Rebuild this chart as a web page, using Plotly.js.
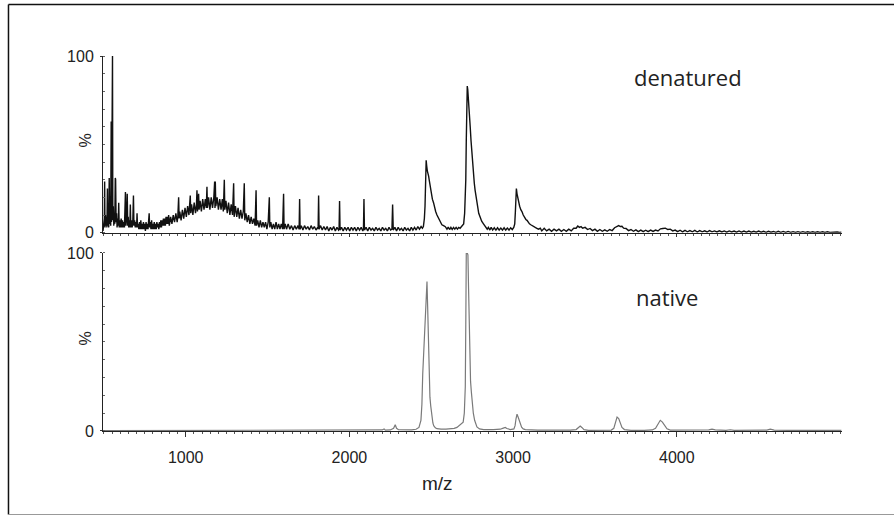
<!DOCTYPE html>
<html>
<head>
<meta charset="utf-8">
<script src="https://cdn.plot.ly/plotly-3.0.1.min.js"></script>
<style>
  html, body { margin: 0; padding: 0; background: #ffffff; }
  #chart { width: 894px; height: 516px; }
</style>
</head>
<body>
<div id="chart"></div>
<script>
// ---------------- DATA (m/z, relative intensity %) ----------------
// Denatured spectrum
var denaturedLow = [
  [495,1],[500,4],[503,8],[505,29],[507,3],[510,10],[513,4],[516,9],[519,3],[522,25],[524,4],[527,9],
  [530,3],[533,31],[536,5],[539,12],[542,4],[545,63],[547,6],[550,100],[553,100],[555,7],[558,15],
  [561,4],[564,10],[567,5],[570,31],[572,30],[575,6],[578,11],[581,3],[585,8],[588,4],[591,17],[594,3],
  [598,7],[602,3],[606,8],[610,3],[614,7],[618,3],[622,6],[626,3],[630,23],[632,23],[635,4],[639,8],
  [643,22],[646,4],[649,9],[652,3],[656,7],[659,3],[662,16],[665,3],[669,7],[673,3],[677,6],[681,21],
  [684,4],[688,7],[692,3],[696,6],[700,3],[703,11],[706,3],
  [710,5],[714,2],[718,6],[722,2],[726,7],[730,2],[734,5],[738,2],[742,6],[746,2],[750,5],[754,1],
  [758,6],[762,2],[766,5],[770,2],[774,6],[777,11],[780,3],[784,6],[788,2],[792,7],[796,2],[800,5],
  [804,2],[808,6],[812,2],[816,5],[820,2],[824,6],[828,3],[832,5],[836,2],[840,6],[844,3],[848,7],
  [852,3],[856,7],[860,4],[864,8],[868,4],[872,8],[876,4],[880,9],[884,5],[888,9],[892,5],[896,10]
];
var denaturedHump = [
  [900,4],[908,9],[916,5],[924,10],[932,6],[940,11],[948,6],[952,9],[957,20],[960,8],[964,12],[972,7],
  [980,13],[988,8],[996,14],[1004,9],[1012,15],[1020,10],[1028,21],[1031,11],[1036,16],[1044,10],
  [1052,17],[1060,11],[1066,16],[1069,24],[1072,12],[1079,22],[1082,13],[1088,18],[1096,12],[1104,19],
  [1112,13],[1120,19],[1126,14],[1130,26],[1133,14],[1140,20],[1148,13],[1156,20],[1164,14],[1172,20],
  [1177,29],[1179,14],[1181,29],[1184,15],[1192,20],[1200,13],[1208,19],[1216,13],[1224,19],[1230,12],
  [1236,30],[1239,13],[1246,18],[1254,11],[1262,17],[1270,10],[1278,16],[1286,10],[1293,28],[1296,9],
  [1304,15],[1312,9],[1320,14],[1328,8],[1336,13],[1344,8],[1352,12],[1358,28],[1361,7],[1368,11],
  [1376,6],[1384,10],[1392,5],[1400,9],[1408,5],[1416,8],[1424,4],[1430,24],[1433,4],[1440,7],[1448,3],
  [1456,7],[1464,3],[1472,6],[1480,3],[1488,6],[1496,2],[1504,6],[1511,20],[1514,3],[1520,6],[1528,2],
  [1536,5],[1544,2],[1552,6],[1560,2],[1568,5],[1576,2],[1584,5],[1592,2],[1598,22],[1601,2],[1608,5]
];
var denaturedMid = [
  [1616,2],[1626,5],[1636,2],[1646,4],[1656,1.5],[1666,4],[1676,2],[1686,4],[1693,2],[1696,19],[1699,2],
  [1706,4],[1716,1.5],[1726,4],[1736,2],[1746,3.5],[1756,1.5],[1766,4],[1776,2],[1786,3.5],[1796,1.5],
  [1806,3],[1809,2],[1812,21],[1815,2],[1824,4],[1834,1.5],[1844,3.5],[1854,1.5],[1864,3.5],[1874,1],
  [1884,3],[1894,1.5],[1904,3.5],[1914,1],[1924,3],[1934,1.5],[1937,2],[1940,18],[1943,1.5],[1952,3],
  [1962,1],[1972,3],[1982,1.5],[1992,3],[2002,1],[2012,3],[2022,1.5],[2032,3],[2042,1],[2052,3],
  [2062,1.5],[2072,3],[2082,1],[2086,2],[2089,19],[2092,1.5],[2102,3],[2112,1],[2122,3],[2132,1.5],
  [2142,2.5],[2152,1],[2162,3],[2172,1.5],[2182,2.5],[2192,1],[2202,3],[2212,1.5],[2222,2.5],[2232,1],
  [2242,3],[2252,1.5],[2260,2],[2264,16],[2268,1.5],[2278,3],[2288,1],[2298,3],[2308,1.5],[2318,2.5],
  [2328,1],[2338,3],[2348,1.5],[2358,2.5],[2368,1],[2378,3],[2388,1.5],[2398,3],[2408,1.5],[2418,3.5],
  [2428,2],[2438,3.5]
];
var denaturedPeaks = [
  [2446,2.5],[2452,3.5],[2458,8],[2462,15],[2466,30],[2469,41],[2472,38],[2476,35],[2480,34],[2484,32],
  [2489,29],[2494,26],[2500,22],[2507,19],[2514,17],[2520,14],[2527,12],[2535,10],[2545,8],[2555,6],
  [2565,4.5],[2575,4],[2586,3.4],[2596,2],[2604,3.2],[2612,1.8],[2620,3],[2628,1.8],[2636,3],[2644,2],
  [2652,3],[2660,2],[2668,3],[2676,2.5],[2684,3.5],[2692,4],[2698,5],[2704,11],[2708,18],[2711,30],
  [2714,52],[2717,75],[2720,83],[2723,81],[2728,71],[2733,65],[2738,60],[2743,52],[2748,45],[2753,38],
  [2758,33],[2763,28],[2768,24],[2775,19],[2782,15],[2790,11],[2798,9],[2808,6.5],[2819,5],[2832,3.5],
  [2842,2],[2849,3],[2858,1.5],[2866,3],[2875,1.5],[2885,2.8],[2895,1.5],[2905,2.8],[2915,1.5],
  [2925,2.6],[2935,1.5],[2945,2.8],[2955,1.5],[2965,2.6],[2975,1.5],[2985,2.8],[2995,1.8],[3004,3],
  [3010,5],[3014,12],[3018,24],[3020,25],[3024,22],[3029,19],[3034,18],[3040,15],[3047,13],[3054,12],
  [3062,10],[3070,8.5],[3078,7.5],[3085,7],[3093,5.5],[3100,5],[3108,4.5],[3115,4],[3125,3.5],
  [3135,3],[3145,2.5],[3155,2],[3166,2.5]
];
var denaturedHigh = [
  [3175,1],[3190,2.5],[3205,1],[3220,2],[3235,0.8],[3250,2],[3265,1],[3280,2],[3295,0.8],[3310,1.8],
  [3325,0.8],[3340,2],[3355,1],[3370,2.5],[3385,2.5],[3395,3.8],[3405,3],[3415,3.4],[3425,2.5],[3440,3],
  [3455,1.8],[3470,2.4],[3485,1.2],[3500,2],[3515,0.8],[3530,1.8],[3545,0.8],[3560,1.6],[3575,0.8],
  [3590,1.8],[3605,1.2],[3620,2.8],[3635,3.6],[3645,4],[3655,3.5],[3665,3.6],[3675,2.6],[3690,2.4],
  [3705,1.2],[3720,1.8],[3735,0.8],[3750,1.6],[3765,0.6],[3780,1.5],[3795,0.6],[3810,1.4],[3825,0.6],
  [3840,1.5],[3855,0.7],[3870,1.5],[3885,1],[3900,2.2],[3915,2.4],[3930,2.6],[3945,1.8],[3960,2],
  [3975,1],[3990,1.5],[4005,0.6],[4020,1.4],[4035,0.5],[4050,1.3],[4065,0.5],[4080,1.2],[4095,0.5],
  [4110,1.3],[4125,0.4],[4140,1.2],[4155,0.5],[4170,1.1],[4185,0.4],[4200,1.2],[4215,0.5],[4230,1],
  [4245,0.4],[4260,1.1],[4275,0.4],[4290,1],[4305,0.3],[4320,1],[4335,0.4],[4350,0.9],[4365,0.3],
  [4380,1],[4395,0.3],[4410,0.9],[4425,0.3],[4440,0.9],[4455,0.3],[4470,0.8],[4485,0.3],[4500,0.9],
  [4515,0.3],[4530,0.8],[4545,0.2],[4560,0.8],[4575,0.3],[4590,0.7],[4605,0.2],[4620,0.8],[4635,0.2],
  [4650,0.7],[4665,0.2],[4680,0.7],[4695,0.2],[4710,0.6],[4725,0.2],[4740,0.6],[4755,0.2],[4770,0.6],
  [4785,0.2],[4800,0.5],[4815,0.2],[4830,0.5],[4845,0.2],[4860,0.5],[4875,0.2],[4890,0.5],[4905,0.2],
  [4920,0.5],[4935,0.2],[4950,0.4],[4965,0.2],[4980,0.4],[4995,0.2],[5005,0.3]
];

// Native spectrum
var nativeLow = [
  [495,0.2],[1000,0.2],[1500,0.2],[2000,0.3],[2150,0.4],[2200,0.6],[2212,1.2],[2220,0.5],[2250,0.6],
  [2270,1.5],[2280,3.5],[2288,1.5],[2300,0.7],[2340,0.5],[2380,0.6],[2407,1],[2425,2]
];
var nativeMain = [
  [2437,6],[2443,15],[2448,32],[2457,52],[2466,72],[2474,84],[2478,70],[2482,52],[2486,30],[2489,22],
  [2492,19],[2497,14],[2504,8],[2510,4.5],[2515,3],[2525,1.8],[2535,1.3],[2560,1],[2590,1.1],[2620,1.2],
  [2640,1.5],[2657,2],[2678,3.5],[2695,5],[2702,10],[2708,25],[2711,60],[2714,100],[2720,100],[2724,99],
  [2728,80],[2732,55],[2736,38],[2740,28],[2745,22],[2750,15],[2757,10],[2765,6],[2772,3.5],[2779,2.3],
  [2795,1.2],[2820,0.8]
];
var nativeHigh = [
  [2880,0.8],[2922,1],[2940,1.6],[2952,2],[2962,1.4],[2983,0.8],[3005,1.2],[3012,3],[3018,7],[3024,9.5],
  [3030,8],[3036,6],[3044,3.8],[3052,2.2],[3062,1.2],[3075,0.8],[3150,0.5],[3250,0.4],[3350,0.5],
  [3385,0.8],[3398,2],[3410,2.8],[3420,2],[3433,0.8],[3460,0.4],[3550,0.4],[3600,0.5],[3615,1.5],
  [3625,4.5],[3635,7.8],[3645,7],[3655,4.5],[3665,2],[3680,0.8],[3720,0.4],[3800,0.4],[3850,0.6],
  [3870,1.5],[3885,4],[3899,6],[3912,5],[3925,3],[3940,1.2],[3960,0.5],[4050,0.4],[4150,0.4],
  [4195,0.6],[4215,1],[4235,0.6],[4300,0.4],[4327,0.7],[4350,0.4],[4450,0.3],[4550,0.5],[4571,1],
  [4595,0.5],[4700,0.3],[4850,0.3],[5005,0.3]
];

var xTickVals = [1000, 2000, 3000, 4000];
var xTickText = ['1000', '2000', '3000', '4000'];
var yTickVals = [0, 100];
var yTickText = ['0', '100'];
var panelLabels = ['denatured', 'native'];
var xTitle = 'm/z';
var yTitle = '%';

// ---------------- BUILD ----------------
function xs(list) { return list.map(function (p) { return p[0]; }); }
function ys(list) { return list.map(function (p) { return p[1]; }); }
var denatured = [].concat(denaturedLow, denaturedHump, denaturedMid, denaturedPeaks, denaturedHigh);
var nativeS = [].concat(nativeLow, nativeMain, nativeHigh);

var traces = [
  { x: xs(denatured), y: ys(denatured), xaxis: 'x', yaxis: 'y', type: 'scatter', mode: 'lines',
    line: { color: '#111111', width: 1.4 }, hoverinfo: 'skip' },
  { x: xs(nativeS), y: ys(nativeS), xaxis: 'x2', yaxis: 'y2', type: 'scatter', mode: 'lines',
    line: { color: '#7a7a7a', width: 1.2 }, hoverinfo: 'skip' }
];

var tickFont = { family: '"Liberation Sans", Arial, sans-serif', size: 16, color: '#222' };
var xRange = [495, 5009];
var minorX = { dtick: 50, tick0: 0, ticks: 'outside', ticklen: 2, tickcolor: '#555', tickwidth: 1 };
var minorY = { dtick: 10, tick0: 0, ticks: 'inside', ticklen: 2, tickcolor: '#666', tickwidth: 1 };

var layout = {
  width: 894, height: 516,
  margin: { l: 103, r: 52, t: 56, b: 85, pad: 0 },
  paper_bgcolor: '#ffffff', plot_bgcolor: '#ffffff',
  showlegend: false,
  xaxis: { domain: [0, 1], anchor: 'y', range: xRange, showline: true, linecolor: '#222', linewidth: 1,
    ticks: 'outside', tickvals: xTickVals, ticklen: 3, tickcolor: '#333', showticklabels: false,
    minor: minorX, showgrid: false, zeroline: false },
  xaxis2: { domain: [0, 1], anchor: 'y2', range: xRange, showline: true, linecolor: '#222', linewidth: 1,
    ticks: 'outside', tickvals: xTickVals, ticktext: xTickText, ticklen: 5, tickcolor: '#333',
    tickfont: tickFont, ticklabelstandoff: 7, minor: minorX, showgrid: false, zeroline: false },
  yaxis: { domain: [0.5288, 1], anchor: 'x', range: [0, 100], showline: true, linecolor: '#222', linewidth: 1,
    ticks: 'outside', tickvals: yTickVals, ticktext: yTickText, ticklen: 2, tickcolor: '#333',
    tickfont: tickFont, ticklabelstandoff: 3, minor: minorY, showgrid: false, zeroline: false },
  yaxis2: { domain: [0, 0.4747], anchor: 'x2', range: [0, 100], showline: true, linecolor: '#222', linewidth: 1,
    ticks: 'outside', tickvals: yTickVals, ticktext: yTickText, ticklen: 2, tickcolor: '#333',
    tickfont: tickFont, ticklabelstandoff: 3, minor: minorY, showgrid: false, zeroline: false },
  annotations: [
    { text: panelLabels[0], xref: 'x', yref: 'y', x: 4070, y: 88, showarrow: false,
      xanchor: 'center', yanchor: 'middle',
      font: { family: '"Open Sans", "Noto Sans", sans-serif', size: 22, color: '#222' } },
    { text: panelLabels[1], xref: 'x2', yref: 'y2', x: 3942, y: 75, showarrow: false,
      xanchor: 'center', yanchor: 'middle',
      font: { family: '"Open Sans", "Noto Sans", sans-serif', size: 22, color: '#222' } },
    { text: xTitle, xref: 'x2', yref: 'paper', x: 2537, y: -0.139, showarrow: false,
      xanchor: 'center', yanchor: 'middle',
      font: { family: '"Liberation Sans", Arial, sans-serif', size: 19, color: '#222' } },
    { text: yTitle, xref: 'paper', yref: 'paper', x: -0.0237, y: 0.776, showarrow: false, textangle: -90,
      xanchor: 'center', yanchor: 'middle',
      font: { family: '"Liberation Sans", Arial, sans-serif', size: 16, color: '#222' } },
    { text: yTitle, xref: 'paper', yref: 'paper', x: -0.0237, y: 0.248, showarrow: false, textangle: -90,
      xanchor: 'center', yanchor: 'middle',
      font: { family: '"Liberation Sans", Arial, sans-serif', size: 16, color: '#222' } }
  ],
  shapes: [
    { type: 'line', xref: 'paper', yref: 'paper', x0: -0.1279, x1: 1.08, y0: 1.1373, y1: 1.1373,
      line: { color: '#111', width: 1.5 } },
    { type: 'line', xref: 'paper', yref: 'paper', x0: -0.1279, x1: -0.1279, y0: -0.2227, y1: 1.1373,
      line: { color: '#111', width: 1.5 } },
    { type: 'line', xref: 'paper', yref: 'paper', x0: -0.1279, x1: 1.08, y0: -0.2227, y1: -0.2227,
      line: { color: '#999', width: 1 } }
  ]
};

Plotly.newPlot('chart', traces, layout, { displayModeBar: false, staticPlot: true });
</script>
</body>
</html>
